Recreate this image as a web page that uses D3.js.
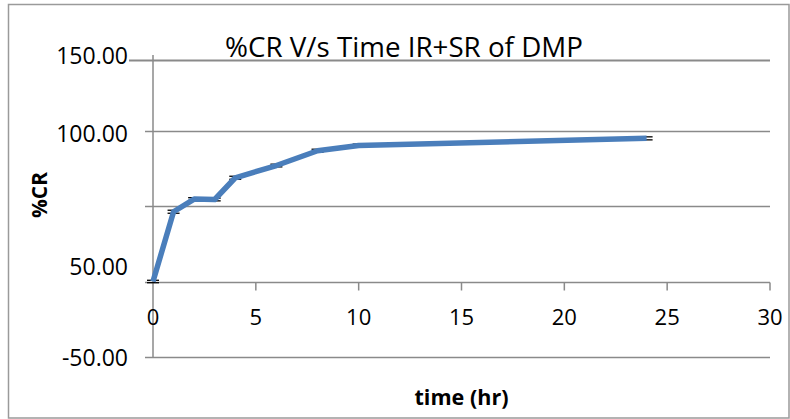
<!DOCTYPE html>
<html>
<head>
<meta charset="utf-8">
<script src="https://cdn.jsdelivr.net/npm/d3@7/dist/d3.min.js"></script>
<style>
  html, body { margin: 0; padding: 0; background: #fff; }
  svg { display: block; }
  text { font-family: "Open Sans", "Liberation Sans", sans-serif; fill: #000; }
</style>
</head>
<body>
<svg id="chart" width="790" height="419"></svg>
<script>
// ---- data ----
const times = [0, 1, 2, 3, 4, 6, 8, 10, 24];
const crValues = [0, 46.2, 54.6, 54.3, 68.7, 76.8, 86.6, 90.1, 94.8];
const crErrors = [0.8, 1.0, 0.9, 0.9, 1.0, 0.9, 1.0, 0.9, 1.0];
const xTicks = [0, 5, 10, 15, 20, 25, 30];
const yGridValues = [-50, 0, 50, 100];
const yTickValues = [150, 100, 0, -50];
const yTickLabels = ["150.00", "100.00", "50.00", "-50.00"];
const titleText = "%CR V/s Time IR+SR of DMP";
const xTitle = "time (hr)";
const yTitle = "%CR";

const svg = d3.select("#chart");
const W = 790, H = 419;
svg.append("rect").attr("width", W).attr("height", H).attr("fill", "#fff");

// outer chart border
svg.append("rect")
  .attr("x", 8.5).attr("y", 4.5).attr("width", 780.5).attr("height", 413.5)
  .attr("fill", "none").attr("stroke", "#9a9a9a").attr("stroke-width", 1.5);

const x = d3.scaleLinear().domain([0, 30]).range([153, 770]);
const y = d3.scaleLinear().domain([-50, 150]).range([357, 55]);

const gridColor = "#8a8a8a";

// gridlines (with outside tick)
svg.append("g").selectAll("line").data(yGridValues).join("line")
  .attr("x1", 145).attr("x2", x(30))
  .attr("y1", d => Math.round(y(d)) + 0.5).attr("y2", d => Math.round(y(d)) + 0.5)
  .attr("stroke", gridColor).attr("stroke-width", 1.5);

// top plot line
svg.append("line")
  .attr("x1", 129).attr("x2", x(30))
  .attr("y1", y(150) + 5.5).attr("y2", y(150) + 5.5)
  .attr("stroke", gridColor).attr("stroke-width", 2.2);

// vertical axis
svg.append("line")
  .attr("x1", x(0)).attr("x2", x(0))
  .attr("y1", y(150)).attr("y2", y(-50))
  .attr("stroke", gridColor).attr("stroke-width", 1.5);

// x axis ticks (downward at zero line)
const y0 = Math.round(y(0)) + 0.5;
svg.append("g").selectAll("line").data(xTicks.filter(d => d > 0)).join("line")
  .attr("x1", d => x(d)).attr("x2", d => x(d))
  .attr("y1", y0).attr("y2", y0 + 8)
  .attr("stroke", gridColor).attr("stroke-width", 1.5);

// x tick labels
svg.append("g").selectAll("text").data(xTicks).join("text")
  .attr("x", d => x(d)).attr("y", 325)
  .attr("text-anchor", "middle")
  .attr("font-size", 22)
  .text(d => d);

// y tick labels
svg.append("g").selectAll("text").data(yTickValues).join("text")
  .attr("x", 128)
  .attr("y", (d, i) => y(d) + (d === 0 ? -15.5 : 0) + (d === 100 ? 2 : 0))
  .attr("dominant-baseline", "central")
  .attr("text-anchor", "end")
  .attr("font-size", 23)
  .text((d, i) => yTickLabels[i]);

function fit(sel, target) {
  const len = sel.node().getComputedTextLength();
  const fs = parseFloat(sel.attr("font-size"));
  sel.attr("font-size", fs * target / len);
}

// title
const t = svg.append("text")
  .attr("x", 404).attr("y", 57)
  .attr("text-anchor", "middle")
  .attr("font-size", 24)
  .text(titleText);
fit(t, 358);

// x title
const xt = svg.append("text")
  .attr("x", (x(0) + x(30)) / 2).attr("y", 405)
  .attr("text-anchor", "middle")
  .attr("font-size", 20).attr("font-weight", "bold")
  .text(xTitle);
fit(xt, 94);

// y title
const yt = svg.append("text")
  .attr("transform", "translate(47,195) rotate(-90)")
  .attr("text-anchor", "middle")
  .attr("font-size", 20).attr("font-weight", "bold")
  .text(yTitle);
fit(yt, 46);

// data
const pts = times.map((tt, i) => ({ t: tt, v: crValues[i], e: crErrors[i] }));

// error bar caps (drawn under the line)
const eg = svg.append("g");
pts.forEach(p => {
  [p.v + p.e, p.v - p.e].forEach(val => {
    eg.append("line")
      .attr("x1", x(p.t) - 6).attr("x2", x(p.t) + 6)
      .attr("y1", y(val)).attr("y2", y(val))
      .attr("stroke", "#000").attr("stroke-width", 1.3);
  });
});

const line = d3.line().x(d => x(d.t)).y(d => y(d.v));
svg.append("path")
  .datum(pts)
  .attr("d", line)
  .attr("fill", "none")
  .attr("stroke", "#4a7ebb")
  .attr("stroke-width", 5.5)
  .attr("stroke-linejoin", "round")
  .attr("stroke-linecap", "butt");
</script>
</body>
</html>
